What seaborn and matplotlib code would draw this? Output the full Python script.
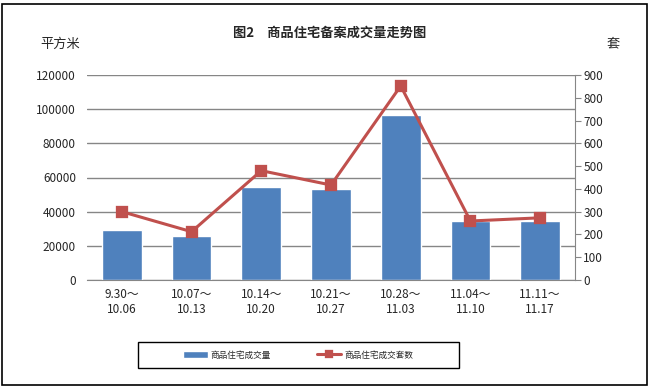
import numpy as np
import pandas as pd
import matplotlib
matplotlib.use('Agg')
import matplotlib.pyplot as plt
import seaborn as sns
from matplotlib.patches import Rectangle

# data
weeks = ["9.30～\n10.06", "10.07～\n10.13", "10.14～\n10.20", "10.21～\n10.27",
         "10.28～\n11.03", "11.04～\n11.10", "11.11～\n11.17"]
area = [29300, 25800, 54400, 53300, 96600, 34500, 34500]      # 平方米
units = [300, 212, 480, 417, 852, 259, 273]                    # 套

bar_label = "商品住宅成交量"
line_label = "商品住宅成交套数"

sns.set_style("white")
plt.rcParams['font.family'] = ['Noto Sans CJK SC', 'DejaVu Sans']

df = pd.DataFrame({'week': weeks, 'area': area, 'units': units})

fig = plt.figure(figsize=(6.53, 3.88), dpi=100)
ax = fig.add_axes([87/653, 1 - 280/388, (575-87)/653, (280-75)/388])

sns.barplot(data=df, x='week', y='area', ax=ax, color='#4F81BD',
            width=0.57, saturation=1, label=bar_label)
ax.set_ylim(0, 120000)
ax.set_yticks(np.arange(0, 120001, 20000))
ax.yaxis.grid(True, color='#868686', lw=1)
ax.set_axisbelow(True)
for s in ['left', 'top', 'right']:
    ax.spines[s].set_visible(False)
ax.spines['bottom'].set_color('#868686')
ax.tick_params(axis='y', length=0, labelsize=8.5, pad=8)
ax.tick_params(axis='x', length=0, labelsize=8.5, pad=6)
ax.set_xlabel('')
ax.set_ylabel('')

ax2 = ax.twinx()
sns.pointplot(data=df, x='week', y='units', ax=ax2, color='#C0504D',
              markers='s', markersize=7, linewidth=2.2, label=line_label)
ax2.set_ylim(0, 900)
ax2.set_yticks(np.arange(0, 901, 100))
for s in ['left', 'top', 'bottom']:
    ax2.spines[s].set_visible(False)
ax2.spines['right'].set_color('#868686')
ax2.tick_params(axis='y', direction='out', length=4, color='#868686', labelsize=8.5, pad=2)
ax2.set_ylabel('')
ax.set_xlim(-0.5, len(weeks) - 0.5)

fig.text(330/653, 1 - 33/388, "图2　商品住宅备案成交量走势图", ha='center', va='center',
         fontsize=9.5, fontweight='bold')
fig.text(60/653, 1 - 44/388, "平方米", ha='center', va='center', fontsize=9.5)
fig.text(613/653, 1 - 44/388, "套", ha='center', va='center', fontsize=9.5)

h1, l1 = ax.get_legend_handles_labels()
h2, l2 = ax2.get_legend_handles_labels()
leg = fig.legend(h1 + h2, l1 + l2, loc='center', bbox_to_anchor=(298/653, 1 - 355/388),
                 ncol=2, fontsize=6.2, frameon=False, columnspacing=5.3,
                 handlelength=2.9, handletextpad=0.3)
for hl in leg.legend_handles:
    if hasattr(hl, 'set_markersize'):
        hl.set_markersize(5)
if ax2.get_legend():
    ax2.get_legend().remove()
if ax.get_legend():
    ax.get_legend().remove()

# legend box and outer border
fig.patches.append(Rectangle((138/653, 1 - 368/388), (459-138)/653, 26/388,
                             transform=fig.transFigure, fill=False, edgecolor='black', lw=1))
fig.patches.append(Rectangle((2/653, 3/388), 645/653, 381/388, transform=fig.transFigure,
                             fill=False, edgecolor='black', lw=1.2))

fig.savefig('out.png', dpi=100)
